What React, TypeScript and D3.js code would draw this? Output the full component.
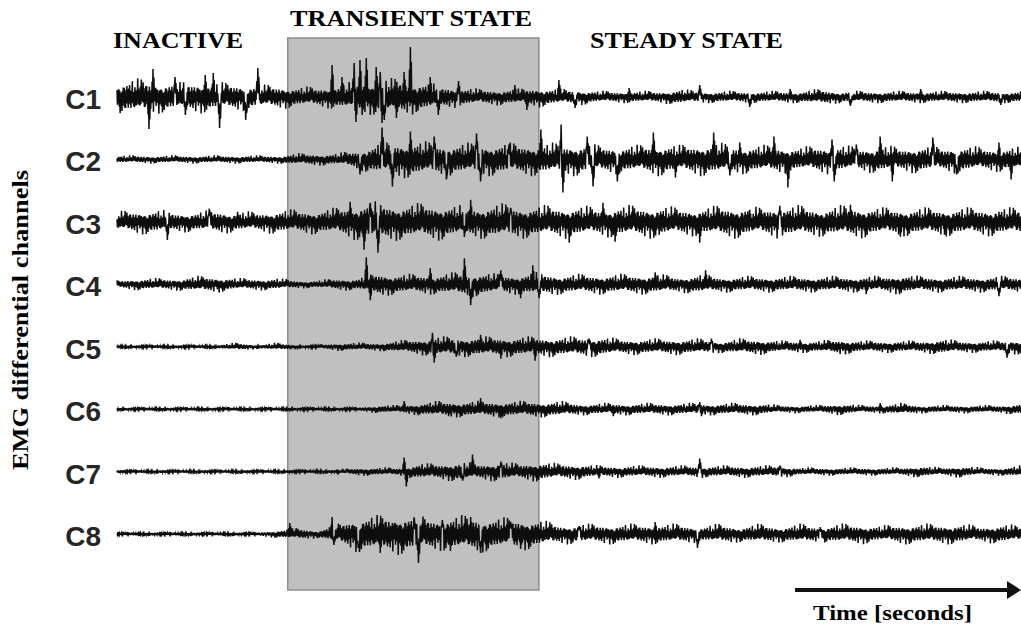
import React, { useMemo } from "react";
import * as d3 from "d3";

// channel names, top to bottom
const channels = ["C1", "C2", "C3", "C4", "C5", "C6", "C7", "C8"];

// recording phases (time units)
const phases = [
  { name: "INACTIVE", start: 0, end: 8.5 },
  { name: "TRANSIENT STATE", start: 8.5, end: 21 },
  { name: "STEADY STATE", start: 21, end: 45 },
];

// amplitude envelopes, one value per time unit (0..45)
const envC1 = [8, 9, 8, 7, 8, 7, 7, 6, 6, 5, 5, 6, 8, 9, 9, 8, 6, 5, 4, 4, 4, 5, 4, 4, 3, 3, 3, 3, 4, 3, 3, 3, 3, 3, 3, 4, 3, 3, 3, 3, 3, 3, 3, 3, 3, 3];
const envC2 = [2, 2, 2, 2, 2, 2, 2, 2, 2, 3, 3, 3, 5, 8, 9, 9, 8, 8, 8, 8, 8, 8, 8, 8, 7, 7, 7, 8, 7, 8, 8, 7, 7, 7, 6, 7, 7, 6, 7, 6, 7, 6, 7, 6, 6, 6];
const envC3 = [5, 6, 6, 5, 5, 6, 5, 5, 6, 6, 6, 7, 9, 10, 9, 9, 9, 8, 8, 9, 8, 8, 8, 8, 7, 8, 8, 8, 7, 7, 8, 8, 7, 8, 8, 7, 8, 8, 7, 7, 7, 7, 7, 7, 7, 7];
const envC4 = [2, 3, 3, 3, 4, 4, 3, 3, 3, 2, 2, 3, 3, 6, 5, 5, 5, 6, 6, 5, 5, 6, 5, 5, 5, 5, 5, 5, 4, 5, 4, 4, 4, 4, 4, 4, 4, 4, 4, 5, 4, 4, 4, 4, 4, 4];
const envC5 = [1, 1, 1, 1, 1, 1, 2, 1, 2, 1, 1, 2, 2, 2, 3, 4, 5, 5, 5, 5, 5, 5, 5, 5, 5, 4, 4, 4, 4, 4, 3, 4, 4, 3, 3, 3, 4, 3, 3, 3, 3, 4, 3, 3, 3, 4];
const envC6 = [1, 1, 1, 1, 1, 1, 1, 1, 1, 1, 1, 1, 1, 2, 2, 3, 4, 4, 4, 4, 4, 4, 4, 3, 3, 3, 3, 3, 3, 3, 3, 3, 3, 2, 2, 2, 3, 2, 2, 3, 2, 2, 2, 2, 2, 3];
const envC7 = [1, 1, 1, 1, 1, 1, 1, 1, 1, 1, 1, 1, 2, 2, 2, 4, 4, 5, 4, 5, 4, 5, 4, 4, 3, 3, 3, 3, 3, 3, 3, 3, 3, 3, 2, 2, 2, 2, 2, 2, 3, 2, 3, 2, 2, 3];
const envC8 = [1, 1, 1, 1, 1, 1, 1, 1, 2, 3, 2, 5, 9, 9, 10, 9, 8, 9, 9, 8, 8, 7, 5, 5, 5, 5, 5, 5, 5, 4, 5, 4, 5, 4, 5, 4, 5, 5, 4, 5, 5, 5, 5, 4, 5, 4];

// large excursions [time, amplitude]
const spikesC1 = [[1.6, -32], [1.8, 28], [2.9, 20], [3.4, -18], [4.4, 22], [4.8, 24], [5.1, -31], [6.4, -23], [7.0, 29], [10.7, 32], [11.2, 20], [11.8, 34], [11.9, -25], [12.1, 37], [12.2, -18], [12.4, 39], [12.9, 30], [13.1, 25], [13.2, -26], [13.3, -23], [13.9, -21], [14.3, 25], [14.6, 50], [14.9, -15], [15.6, 20], [16.0, -18], [17.0, 16], [19.8, 12], [20.4, -13], [22.0, 17], [22.8, -11], [25.5, 9], [29.0, 12], [31.5, -10], [33.5, 8], [36.5, -9], [40, 8], [44, -8]];
const spikesC2 = [[12.1, -15], [13.2, 32], [13.7, -27], [14.6, 28], [15.8, 23], [16.4, -20], [17.9, 26], [18.1, -22], [19.5, 15], [21.1, 30], [22.1, 35], [22.2, -33], [23.4, 23], [23.7, -27], [24.9, -22], [26.7, 27], [27.8, -18], [29.7, 27], [30.5, -16], [31.0, 17], [32.7, 23], [33.4, -28], [35.6, 20], [35.7, -22], [36.8, 15], [38.0, 23], [38.6, -22], [40.6, 22], [41.8, -15], [43.9, 17], [44.5, -20]];
const spikesC3 = [[2.5, -18], [4.6, 12], [6.0, 10], [11.6, 20], [12.3, -28], [12.6, 19], [13.0, -31], [17.3, -15], [17.6, 22], [19.6, 14], [22.5, -21], [24.2, 19], [24.8, -20], [27, -13], [29.0, -21], [31.5, 12], [33.0, 16], [36.5, 17], [39.0, -15], [41.2, -13], [43.9, 10]];
const spikesC4 = [[3.5, 5], [5.0, -5], [12.4, 27], [12.6, -16], [15.6, 16], [17.3, 26], [17.6, -21], [19.1, 14], [20.1, -14], [20.7, 19], [21.0, -14], [26.8, 12], [29.3, 14], [37.3, -10], [43.9, -12]];
const spikesC5 = [[15.7, 14], [15.8, -16], [16.9, -10], [18.1, 12], [19.1, -12], [20.8, -14], [23.5, 8], [29.6, 8], [34, 7], [44.3, -11]];
const spikesC6 = [[14.3, 8], [16.5, -7], [18.1, 11], [19.1, -9], [24.7, -7], [29.0, 7], [29.1, -7], [38, 6]];
const spikesC7 = [[14.3, 14], [14.4, -15], [17.2, -9], [17.7, 17], [19.1, 10], [24, -7], [29.0, 13], [33, 6]];
const spikesC8 = [[8.6, 11], [10.7, 17], [10.8, -11], [12.0, -14], [13.1, -19], [13.7, 11], [14.8, 15], [15.0, -29], [16.2, 14], [16.6, -17], [17.6, 17], [18.1, -19], [19.6, 12], [20.1, -15], [23, 8], [26.8, 12], [28.9, -14], [35, 7]];

const envelopes = [envC1, envC2, envC3, envC4, envC5, envC6, envC7, envC8];
const spikes = [spikesC1, spikesC2, spikesC3, spikesC4, spikesC5, spikesC6, spikesC7, spikesC8];

// oscillation texture used to draw the envelope as a signal
const texture = [0.8, 1.1, 0.55, 0.95, 1.25, 0.7, 0.9, 0.5, 1.8, 0.75, 1.3, 0.6, 0.95, 0.85, 0.5, 1.2, 0.65, 1.05, 0.8, 1.3, 0.55, 2.0, 0.75, 1.15, 0.45, 0.85, 1.1, 0.65, 1.25, 0.9, 0.55, 1.0, 0.75, 1.7, 0.5, 0.95, 0.7, 1.4, 0.6, 1.05, 0.85, 0.5, 1.15, 0.75, 2.1, 0.65, 1.25];

const T_MAX = 45;

export default function App() {
  const width = 1021;
  const height = 631;

  const x = d3.scaleLinear().domain([0, T_MAX]).range([117, 1021]);
  const y = d3.scalePoint().domain(channels).range([97, 534]);
  const amp = d3.scaleLinear().domain([-50, 50]).range([50, -50]);

  const traces = useMemo(() => {
    const n = Math.round((x(T_MAX) - x(0)) / 0.45);
    return channels.map((ch, ci) => {
      const env = envelopes[ci];
      const envScale = d3.scaleLinear().domain(d3.range(env.length)).range(env).clamp(true);
      const samples = d3.range(n + 1).map((k) => {
        const t = (T_MAX * k) / n;
        const m = envScale(t) * texture[(k * 3 + ci * 7) % texture.length];
        return { t, v: k % 2 === 0 ? m : -m };
      });
      spikes[ci].forEach(([t, v]) => {
        const k = Math.round((t / T_MAX) * n);
        samples[k].v = v;
        if (samples[k - 2]) samples[k - 2].v = v * 0.55;
        if (samples[k + 2]) samples[k + 2].v = v * 0.7;
      });
      const cy = y(ch) as number;
      const line = d3
        .line<{ t: number; v: number }>()
        .x((d) => x(d.t))
        .y((d) => cy + amp(d.v));
      return { ch, cy, d: line(samples) as string };
    });
  }, []);

  const transient = phases[1];
  const serif = "'Liberation Serif', 'Times New Roman', serif";

  return (
    <svg width={width} height={height} style={{ position: "absolute", left: 0, top: 0, background: "#fff" }}>
      <rect
        x={x(transient.start)}
        y={38}
        width={x(transient.end) - x(transient.start)}
        height={552}
        fill="#c0c0c0"
        stroke="#8c8c8c"
        strokeWidth={1.5}
      />

      <text x={113} y={48} fontFamily={serif} fontWeight="bold" fontSize={24} textLength={130} lengthAdjust="spacingAndGlyphs">
        {phases[0].name}
      </text>
      <text x={290} y={26} fontFamily={serif} fontWeight="bold" fontSize={24} textLength={242} lengthAdjust="spacingAndGlyphs">
        {phases[1].name}
      </text>
      <text x={590} y={48} fontFamily={serif} fontWeight="bold" fontSize={24} textLength={193} lengthAdjust="spacingAndGlyphs">
        {phases[2].name}
      </text>

      {traces.map((tr) => (
        <g key={tr.ch}>
          <text
            x={101}
            y={tr.cy + 12}
            textAnchor="end"
            fontFamily="'Liberation Sans', Arial, sans-serif"
            fontWeight="bold"
            fontSize={28}
            fill="#262626"
          >
            {tr.ch}
          </text>
          <path d={tr.d} fill="none" stroke="#0d0d0d" strokeWidth={1.5} strokeLinejoin="miter" />
        </g>
      ))}

      <text
        transform="translate(28,320) rotate(-90)"
        textAnchor="middle"
        fontFamily={serif}
        fontWeight="bold"
        fontSize={23}
        textLength={300}
        lengthAdjust="spacingAndGlyphs"
      >
        EMG differential channels
      </text>

      <line x1={795} x2={1010} y1={590} y2={590} stroke="#111" strokeWidth={4} />
      <path d="M1007,581 L1021,590 L1007,599 Z" fill="#111" />
      <text x={813} y={620} fontFamily={serif} fontWeight="bold" fontSize={22} textLength={159} lengthAdjust="spacingAndGlyphs">
        Time [seconds]
      </text>
    </svg>
  );
}
